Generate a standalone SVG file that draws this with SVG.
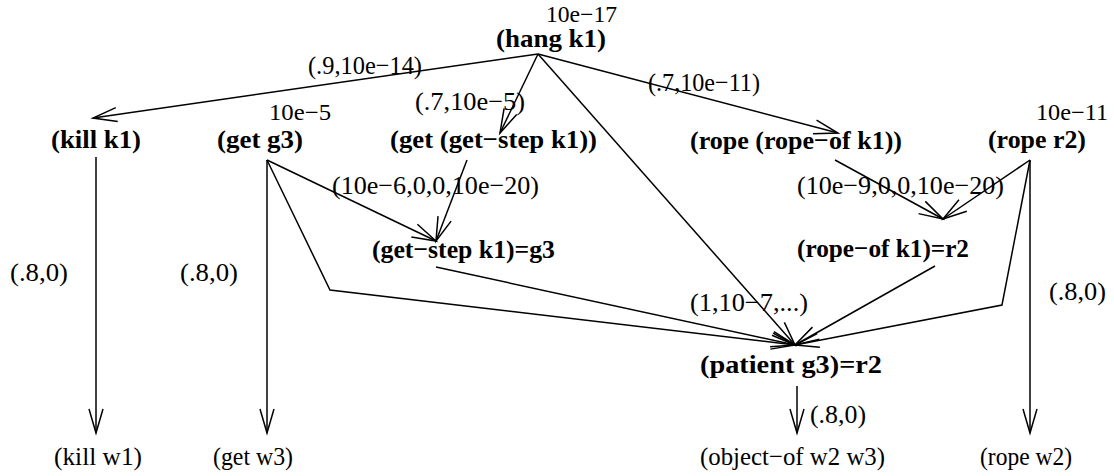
<svg xmlns="http://www.w3.org/2000/svg" width="1114" height="476" viewBox="0 0 1114 476">
<style>
text{font-family:"Liberation Serif","Times New Roman",serif;font-size:26px;fill:#000}
.b{font-weight:bold}
.p{font-size:23px}
.c{fill:none;stroke:#000;stroke-width:1.5;stroke-linejoin:miter}
</style>
<defs>
<marker id="arr" markerUnits="userSpaceOnUse" viewBox="-26 -9 28 18" markerWidth="28" markerHeight="18" refX="0" refY="0" orient="auto" overflow="visible">
<path d="M-24,-7 L0,0 L-24,7" fill="none" stroke="#000" stroke-width="1.5"/>
</marker>
</defs>
<rect width="1114" height="476" fill="#fff"/>
<g id="connectors">
<path class="c" marker-end="url(#arr)" d="M538,54 L93,118"/>
<path class="c" marker-end="url(#arr)" d="M538,54 L500,133"/>
<path class="c" marker-end="url(#arr)" d="M538,54 L838,133"/>
<path class="c" marker-end="url(#arr)" d="M538,54 L795,345"/>
<path class="c" marker-end="url(#arr)" d="M467,160 L436,241"/>
<path class="c" marker-end="url(#arr)" d="M267,160 L436,241"/>
<path class="c" marker-end="url(#arr)" d="M267,160 L330,290 L795,345"/>
<path class="c" marker-end="url(#arr)" d="M267,160 L267,433"/>
<path class="c" marker-end="url(#arr)" d="M96,157 L96,433"/>
<path class="c" marker-end="url(#arr)" d="M436,267 L795,345"/>
<path class="c" marker-end="url(#arr)" d="M835,160 L943,219"/>
<path class="c" marker-end="url(#arr)" d="M1030,160 L943,219"/>
<path class="c" marker-end="url(#arr)" d="M935,266 L795,345"/>
<path class="c" marker-end="url(#arr)" d="M1030,160 L1002,305 L795,345"/>
<path class="c" marker-end="url(#arr)" d="M1030,160 L1030,433"/>
<path class="c" marker-end="url(#arr)" d="M797,386 L797,433"/>
<text x="308" y="74" textLength="114" lengthAdjust="spacingAndGlyphs">(.9,10e−14)</text>
<text x="648" y="91" textLength="112" lengthAdjust="spacingAndGlyphs">(.7,10e−11)</text>
<text x="415" y="110" textLength="110" lengthAdjust="spacingAndGlyphs">(.7,10e−5)</text>
<text x="332" y="194" textLength="207" lengthAdjust="spacingAndGlyphs">(10e−6,0,0,10e−20)</text>
<text x="797" y="194" textLength="207" lengthAdjust="spacingAndGlyphs">(10e−9,0,0,10e−20)</text>
<text x="10" y="281" textLength="58" lengthAdjust="spacingAndGlyphs">(.8,0)</text>
<text x="180" y="281" textLength="58" lengthAdjust="spacingAndGlyphs">(.8,0)</text>
<text x="1049" y="300" textLength="57" lengthAdjust="spacingAndGlyphs">(.8,0)</text>
<text x="690" y="311" textLength="118" lengthAdjust="spacingAndGlyphs">(1,10−7,...)</text>
<text x="810" y="423" textLength="56" lengthAdjust="spacingAndGlyphs">(.8,0)</text>
</g>
<g id="hang"><text class="p" x="546" y="22" textLength="71" lengthAdjust="spacingAndGlyphs">10e−17</text><text class="b" x="496" y="47" textLength="110" lengthAdjust="spacingAndGlyphs">(hang k1)</text></g>
<g id="kill-k1"><text class="b" x="51" y="148" textLength="90" lengthAdjust="spacingAndGlyphs">(kill k1)</text></g>
<g id="get-g3"><text class="p" x="269" y="120" textLength="62" lengthAdjust="spacingAndGlyphs">10e−5</text><text class="b" x="217" y="148" textLength="86" lengthAdjust="spacingAndGlyphs">(get g3)</text></g>
<g id="get-get-step"><text class="b" x="390" y="148" textLength="207" lengthAdjust="spacingAndGlyphs">(get (get−step k1))</text></g>
<g id="rope-rope-of"><text class="b" x="690" y="149" textLength="212" lengthAdjust="spacingAndGlyphs">(rope (rope−of k1))</text></g>
<g id="rope-r2"><text class="p" x="1036" y="120" textLength="72" lengthAdjust="spacingAndGlyphs">10e−11</text><text class="b" x="988" y="148" textLength="98" lengthAdjust="spacingAndGlyphs">(rope r2)</text></g>
<g id="get-step-eq"><text class="b" x="372" y="258" textLength="183" lengthAdjust="spacingAndGlyphs">(get−step k1)=g3</text></g>
<g id="rope-of-eq"><text class="b" x="797" y="257" textLength="172" lengthAdjust="spacingAndGlyphs">(rope−of k1)=r2</text></g>
<g id="patient"><text class="b" x="700" y="373" textLength="182" lengthAdjust="spacingAndGlyphs">(patient g3)=r2</text></g>
<g id="kill-w1"><text x="54" y="465" textLength="88" lengthAdjust="spacingAndGlyphs">(kill w1)</text></g>
<g id="get-w3"><text x="213" y="465" textLength="80" lengthAdjust="spacingAndGlyphs">(get w3)</text></g>
<g id="object-of"><text x="700" y="465" textLength="185" lengthAdjust="spacingAndGlyphs">(object−of w2 w3)</text></g>
<g id="rope-w2"><text x="980" y="465" textLength="92" lengthAdjust="spacingAndGlyphs">(rope w2)</text></g>
</svg>
